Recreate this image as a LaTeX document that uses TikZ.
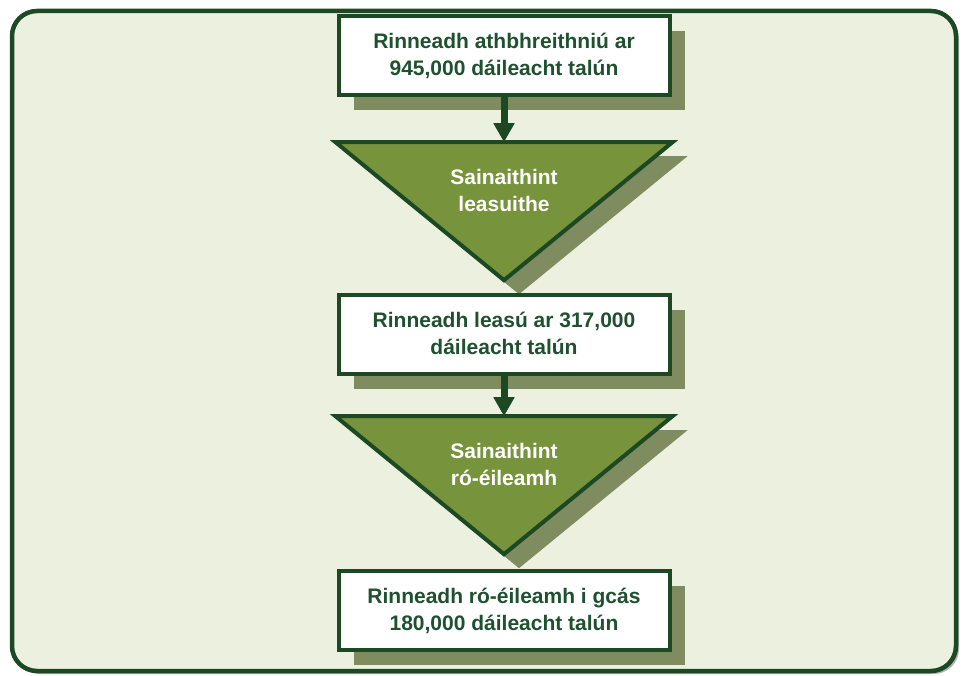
\documentclass[tikz,border=0pt]{standalone}
\usepackage{fontspec}
\setmainfont{Liberation Sans}
\usetikzlibrary{shapes.geometric,shadows,arrows.meta}
\definecolor{framegreen}{HTML}{1C4824}
\definecolor{textgreen}{HTML}{1F5130}
\definecolor{trigreen}{HTML}{77933C}
\definecolor{shadowgreen}{HTML}{7F8C5F}
\definecolor{bggreen}{HTML}{EBF1DE}
\begin{document}
\begin{tikzpicture}[
   x=1pt,y=-1pt,
   font=\bfseries\fontsize{21}{27}\selectfont,
   every matrix/.style={ampersand replacement=\&,row sep=0pt,inner sep=0pt},
   box/.style={draw=framegreen,line width=4pt,fill=white,text=textgreen,align=center,
     minimum width=331pt,minimum height=79pt,outer sep=0pt,text depth=2pt,
     drop shadow={shadow xshift=15pt,shadow yshift=-15pt,fill=shadowgreen,opacity=1}},
   tri/.style={isosceles triangle,isosceles triangle stretches,shape border rotate=-90,
     draw=framegreen,line width=4pt,fill=trigreen,
     minimum width=337pt,minimum height=138pt,inner sep=0pt,outer sep=0pt,
     drop shadow={shadow xshift=15pt,shadow yshift=-14pt,fill=shadowgreen,opacity=1}},
   trilabel/.style={anchor=north,yshift=-27pt,inner sep=0pt,text=white,align=center},
   to/.style={-{Triangle[length=19pt,width=20pt]},line width=7pt,draw=framegreen}]
\useasboundingbox (0,0) rectangle (964,676);
% outer frame
\draw[framegreen,line width=4.5pt,fill=bggreen,rounded corners=25pt,
  drop shadow={shadow xshift=3pt,shadow yshift=-3pt,fill=black!30,opacity=1}]
  (12,11) rectangle (956,671);
\matrix (chart) [anchor=north] at (504,14) {
\node[box] (review) {Rinneadh athbhreithniú ar\\945,000 dáileacht talún};\\[43pt]
\node[tri,label={[trilabel]north:Sainaithint\\leasuithe}] (findfix) {};\\[11pt]
\node[box] (fixed) {Rinneadh leasú ar 317,000\\dáileacht talún};\\[38pt]
\node[tri,label={[trilabel]north:Sainaithint\\ró-éileamh}] (findover) {};\\[13pt]
\node[box] (over) {Rinneadh ró-éileamh i gcás\\180,000 dáileacht talún};\\
};
\draw[to] (review.south) -- (findfix.north);
\draw[to] (fixed.south) -- (findover.north);
\end{tikzpicture}
\end{document}
